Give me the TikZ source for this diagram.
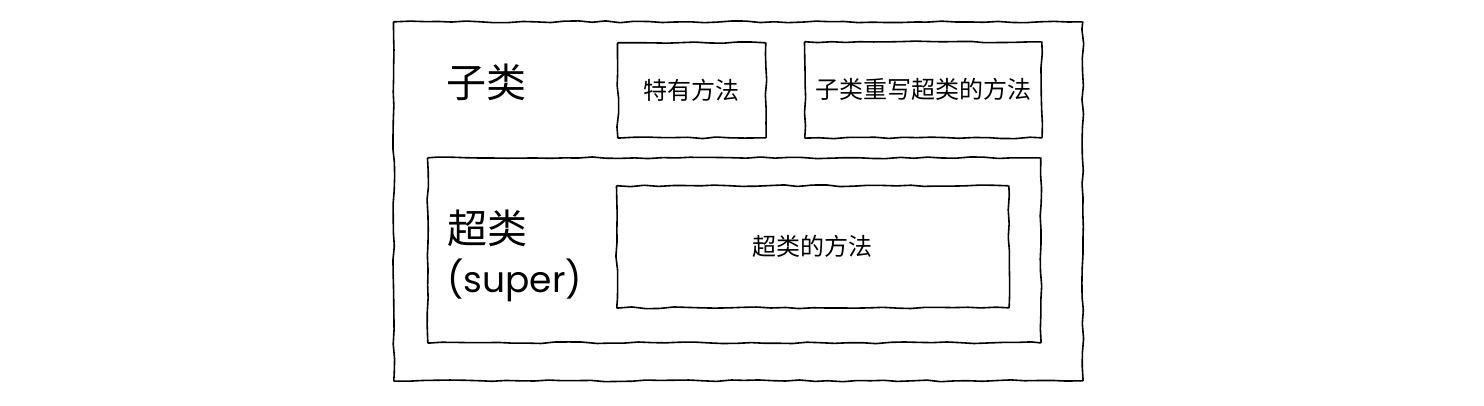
\documentclass[tikz,border=0pt]{standalone}
\usepackage{fontspec}
\setmainfont{Noto Sans CJK SC}
\newfontfamily\latinfont{Poppins}
\usetikzlibrary{decorations.pathmorphing}
\begin{document}
\begin{tikzpicture}[x=1pt,y=-1pt,
  sketch/.style={draw=black, line width=1.6pt, rounded corners=0.6pt, decorate,
    decoration={random steps, segment length=14pt, amplitude=0.9pt}},
  box/.style={sketch, inner sep=0pt, anchor=north west},
  small/.style={font=\fontsize{24pt}{28pt}\selectfont},
  big/.style={font=\fontsize{40pt}{52pt}\selectfont}]
\pgfmathsetseed{7}
\useasboundingbox (0,0) rectangle (1484,406);
\node[box, minimum width=689pt, minimum height=359pt] (outer) at (393,21) {};
\node[box, minimum width=148pt, minimum height=95pt] (own) at (617,42) {};
\node[box, minimum width=237pt, minimum height=96pt] (override) at (804,41) {};
\node[box, minimum width=613pt, minimum height=185pt] (super) at (427,157) {};
\node[box, minimum width=392pt, minimum height=122pt] (supm) at (616,185) {};
\node[small] (ownt) at (own.center) {特有方法};
\node[small] (overridet) at (override.center) {子类重写超类的方法};
\node[small] (supmt) at (supm.center) {超类的方法};
\node[big, inner sep=0pt] (sub) at (486,82) {子类};
\node[big, inner sep=0pt, anchor=west] (supl) at (447,228) {超类};
\node[big, inner sep=0pt, anchor=west] (supl2) at (447,280) {\latinfont\fontsize{36pt}{40pt}\selectfont (super)};
\end{tikzpicture}
\end{document}
